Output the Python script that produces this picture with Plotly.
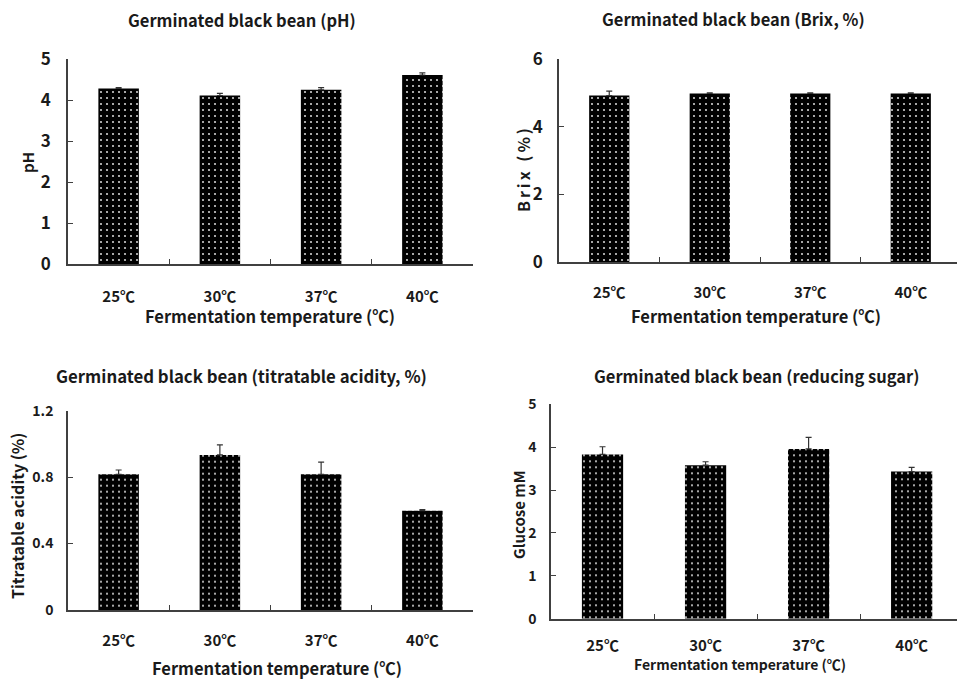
import plotly.graph_objects as go

W, H = 957, 679

categories = ["25℃", "30℃", "37℃", "40℃"]

ph_values = [4.28, 4.11, 4.25, 4.61]
ph_errors = [0.02, 0.05, 0.05, 0.05]

brix_values = [4.92, 4.98, 4.98, 4.98]
brix_errors = [0.13, 0.02, 0.02, 0.02]

acidity_values = [0.817, 0.934, 0.817, 0.598]
acidity_errors = [0.026, 0.060, 0.073, 0.006]

glucose_values = [3.83, 3.58, 3.96, 3.43]
glucose_errors = [0.18, 0.08, 0.27, 0.10]

titles = [
    "Germinated black bean (pH)",
    "Germinated black bean (Brix, %)",
    "Germinated black bean (titratable acidity, %)",
    "Germinated black bean (reducing sugar)",
]
y_titles = ["pH", "Brix (%)", "Titratable acidity (%)", "Glucose mM"]
x_title = "Fermentation temperature (℃)"

FONT = "Noto Sans CJK KR"
TXT = "#1a1a1a"
AX = "#404040"


def px(x):
    return x / W


def py(y):
    return 1 - y / H


panels = [
    dict(v=ph_values, e=ph_errors, xd=(68, 473), yd=(59, 264), yr=[0, 5], dt=1, xe=3.5,
         tfs=17, ypad=12, xts=15, xpad=18),
    dict(v=brix_values, e=brix_errors, xd=(559, 957), yd=(59, 262), yr=[0, 6], dt=2, xe=3.46,
         tfs=17, ypad=11, xts=15, xpad=16),
    dict(v=acidity_values, e=acidity_errors, xd=(68, 473), yd=(410.7, 610), yr=[0, 1.2], dt=0.4, xe=3.5,
         tfs=14, ypad=10, xts=15, xpad=16),
    dict(v=glucose_values, e=glucose_errors, xd=(551, 957), yd=(404.3, 618.7), yr=[0, 5], dt=1, xe=3.44,
         tfs=14, ypad=10, xts=15, xpad=13),
]

fig = go.Figure()
layout = {}
for i, p in enumerate(panels, start=1):
    xa = "x" if i == 1 else f"x{i}"
    ya = "y" if i == 1 else f"y{i}"
    fig.add_trace(go.Bar(
        x=categories, y=p["v"], xaxis=xa, yaxis=ya, width=0.4,
        marker=dict(color="black", line=dict(width=0),
                    pattern=dict(shape=".", fgcolor="#d0d0d0", bgcolor="black",
                                 fillmode="replace", size=6, solidity=0.1)),
        error_y=dict(type="data", array=p["e"], arrayminus=[0] * 4, symmetric=False,
                     color="#333333", thickness=1.2, width=3),
        showlegend=False,
    ))
    xkey = "xaxis" if i == 1 else f"xaxis{i}"
    ykey = "yaxis" if i == 1 else f"yaxis{i}"
    layout[xkey] = dict(
        domain=[px(p["xd"][0]), min(1, px(p["xd"][1]))], anchor=ya,
        type="category", range=[-0.5, p["xe"]], tickson="boundaries",
        showline=True, linecolor=AX, linewidth=1.5, ticks="inside", ticklen=5,
        tickcolor=AX, tickwidth=1.2, showgrid=False, zeroline=False, automargin=False,
        tickfont=dict(family=FONT, size=p["xts"], color=TXT, weight="bold"),
        ticklabelstandoff=p["xpad"], fixedrange=True,
    )
    layout[ykey] = dict(
        domain=[py(p["yd"][1]), py(p["yd"][0])], anchor=xa,
        range=p["yr"], dtick=p["dt"], tick0=0,
        showline=True, linecolor=AX, linewidth=1.5, ticks="inside", ticklen=5,
        tickcolor=AX, tickwidth=1.2, showgrid=False, zeroline=False, automargin=False,
        tickfont=dict(family=FONT, size=p["tfs"], color=TXT, weight="bold"),
        ticklabelstandoff=p["ypad"], fixedrange=True,
    )

ann = []
title_pos = [(242, 20, 16.5), (733, 19, 16.5), (241, 376, 16.8), (756, 376, 16.5)]
for t, (x, y, s) in zip(titles, title_pos):
    ann.append(dict(text=t, x=px(x), y=py(y), xref="paper", yref="paper",
                    showarrow=False, xanchor="center", yanchor="middle",
                    font=dict(family=FONT, size=s, color=TXT, weight="bold")))
ytitle_pos = [(27, 163, 15, 0), (523, 169, 16, 3), (17, 516, 16, 0), (518, 515, 15, 0)]
for t, (x, y, s, ls) in zip(y_titles, ytitle_pos):
    txt = f'<span style="letter-spacing:{ls}px">{t}</span>' if ls else t
    ann.append(dict(text=txt, x=px(x), y=py(y), xref="paper", yref="paper",
                    showarrow=False, xanchor="center", yanchor="middle", textangle=-90,
                    font=dict(family=FONT, size=s, color=TXT, weight="bold")))
xtitle_pos = [(270, 316, 16.5), (756, 316, 16.5), (277, 668, 16.5), (740, 664, 14)]
for (x, y, s) in xtitle_pos:
    ann.append(dict(text=x_title, x=px(x), y=py(y), xref="paper", yref="paper",
                    showarrow=False, xanchor="center", yanchor="middle",
                    font=dict(family=FONT, size=s, color=TXT, weight="bold")))

fig.update_layout(
    width=W, height=H, margin=dict(l=0, r=0, t=0, b=0, autoexpand=False),
    paper_bgcolor="white", plot_bgcolor="white",
    annotations=ann, **layout,
)

fig.write_html("out.html", config={"displayModeBar": False})
